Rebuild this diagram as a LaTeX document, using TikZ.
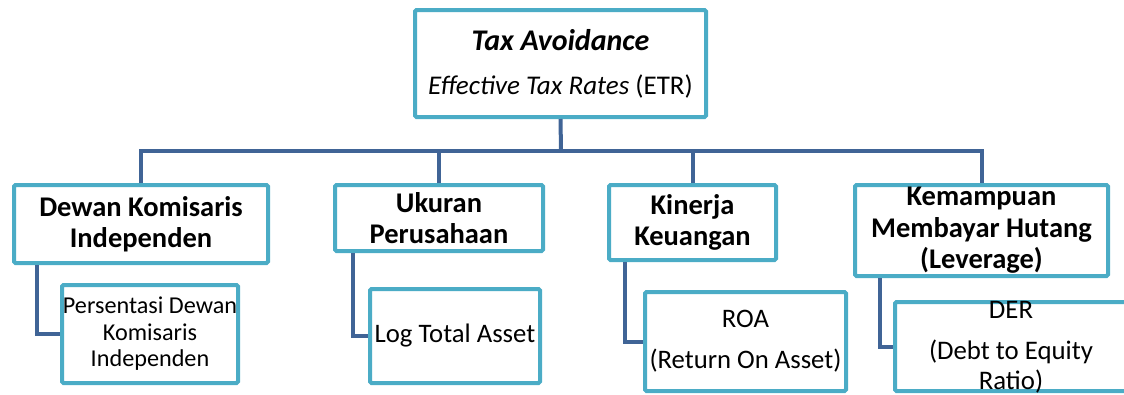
\documentclass[tikz,border=0pt]{standalone}
\usepackage{fontspec}
\setmainfont{Carlito}
\usetikzlibrary{positioning}
\definecolor{boxline}{RGB}{75,172,198}
\definecolor{treeline}{RGB}{64,100,150}

\begin{document}
\begin{tikzpicture}[x=1pt, y=-1pt,
  mainbox/.style={draw=boxline, line width=4pt, fill=white, rounded corners=1.5pt, align=center, inner sep=0pt},
  catbox/.style={mainbox, font=\fontsize{28.5}{31.5}\selectfont\bfseries},
  subbox/.style={mainbox, font=\fontsize{26.7}{32}\selectfont},
  link/.style={draw=treeline, line width=4pt}]
  % Page frame
  \useasboundingbox (0,0) rectangle (1124,394);
  \clip (0,0) rectangle (1124,394);

  % Top box
  \node[mainbox, minimum width=291pt, minimum height=107pt, font=\fontsize{27}{44}\selectfont] (tax) at (560.5,63.5)
    {{\fontsize{30}{44}\selectfont\bfseries\itshape Tax Avoidance}\\
     {\itshape Effective Tax Rates \upshape(ETR)}};

  % Level 1 boxes
  \node[catbox, minimum width=254pt, minimum height=78pt] (dewan) at (141,224) {Dewan Komisaris\\Independen};
  \node[catbox, minimum width=208pt, minimum height=66pt] (ukuran) at (439,218) {Ukuran\\Perusahaan};
  \node[catbox, minimum width=167pt, minimum height=75pt] (kinerja) at (692.5,222.5) {Kinerja\\Keuangan};
  \node[catbox, minimum width=253pt, minimum height=91pt] (leverage) at (981.5,230.5) {Kemampuan\\Membayar Hutang\\(Leverage)};

  % Level 2 boxes
  \node[subbox, minimum width=176pt, minimum height=98pt, font=\fontsize{24.2}{26.5}\selectfont] (persen) at (150,334) {Persentasi Dewan\\Komisaris\\Independen};
  \node[subbox, minimum width=170pt, minimum height=94pt] (logta) at (455,336) {Log Total Asset};
  \node[subbox, minimum width=201pt, minimum height=99pt] (roa) at (745.5,341.5) {ROA\\[9pt](Return On Asset)};
  \node[subbox, minimum width=238pt, minimum height=89pt] (der) at (1014,346.5) {};
  \node[align=center, inner sep=0pt, font=\fontsize{26.8}{30}\selectfont] (dertext) at (1011,347) {DER\\[11pt](Debt to Equity\\Ratio)};

  % Connectors
  \coordinate (hub) at (561,151);
  \draw[link] (tax.south) -- (hub);
  \draw[link] (dewan.north) |- (hub) -| (leverage.north);
  \draw[link] (ukuran.north) -- (ukuran.north |- hub);
  \draw[link] (kinerja.north) -- (kinerja.north |- hub);

  \draw[link] (dewan.south west) ++(25,0) |- (persen.west);
  \draw[link] (ukuran.south west) ++(20,0) |- (logta.west);
  \draw[link] (kinerja.south west) ++(18,0) |- (roa.west);
  \draw[link] (leverage.south west) ++(27,0) |- (der.west);
\end{tikzpicture}
\end{document}
